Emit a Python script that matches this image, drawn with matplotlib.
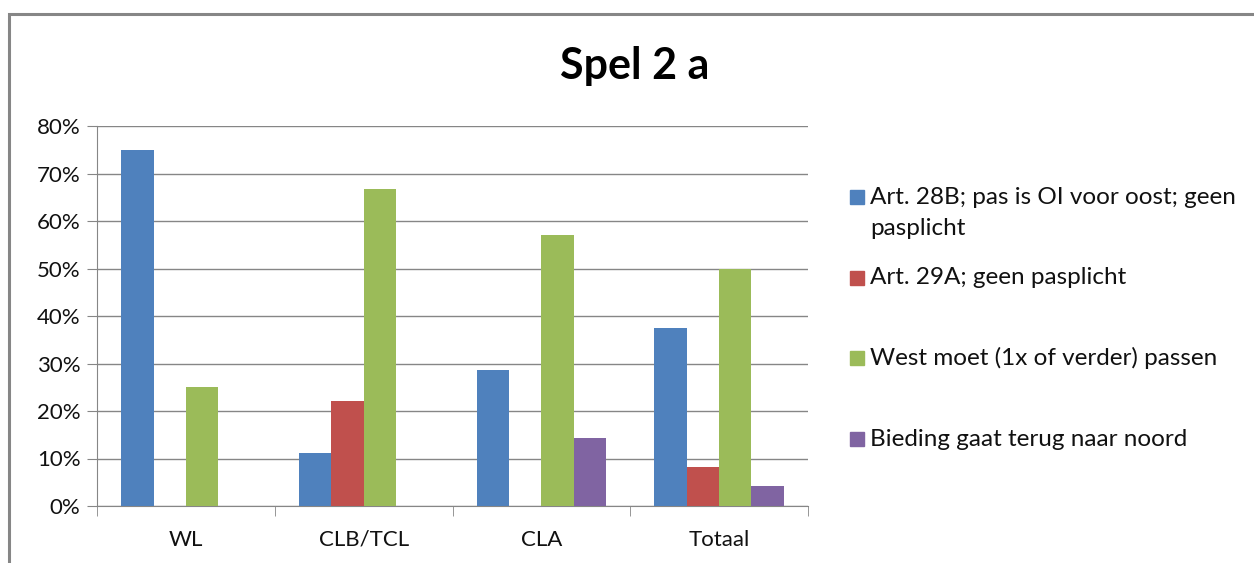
import matplotlib.pyplot as plt
from matplotlib.patches import Rectangle
from matplotlib.ticker import PercentFormatter
import numpy as np

categories = ['WL', 'CLB/TCL', 'CLA', 'Totaal']
series_names = ['Art. 28B; pas is OI voor oost; geen\npasplicht',
                'Art. 29A; geen pasplicht',
                'West moet (1x of verder) passen',
                'Bieding gaat terug naar noord']
art28b = [75.0, 11.1, 28.6, 37.5]
art29a = [0.0, 22.2, 0.0, 8.3]
west_passen = [25.0, 66.7, 57.1, 50.0]
terug_noord = [0.0, 0.0, 14.3, 4.2]
colors = ['#4F81BD', '#C0504D', '#9BBB59', '#8064A2']

plt.rcParams['font.family'] = ['Lato', 'DejaVu Sans']

W, H = 1254, 563
fig = plt.figure(figsize=(W / 100, H / 100), dpi=100)

# outer chart border (runs off the image on the right and bottom)
fig.patches.append(Rectangle((9 / W, -0.1), 1.2, (563 - 14) / H + 0.1,
                             transform=fig.transFigure, fill=False,
                             edgecolor='#868686', lw=2.2))

ax = fig.add_axes([97 / W, (H - 506) / H, (808 - 97) / W, (506 - 126) / H])

x = np.arange(len(categories))
bw = 1 / 5.5
all_series = [art28b, art29a, west_passen, terug_noord]
for i, vals in enumerate(all_series):
    ax.bar(x - 1.5 * bw + i * bw, vals, width=bw, color=colors[i], zorder=3)

ax.set_xlim(-0.5, len(categories) - 0.5)
ax.set_ylim(0, 80)
ax.set_yticks(range(0, 81, 10))
ax.yaxis.set_major_formatter(PercentFormatter(decimals=0))
ax.grid(axis='y', color='#868686', lw=1, zorder=0)
for s in ['top', 'right']:
    ax.spines[s].set_visible(False)
for s in ['left', 'bottom']:
    ax.spines[s].set_color('#868686')
ax.tick_params(axis='y', length=7, color='#868686', labelsize=16, pad=5,
               labelcolor='#111111')
ax.set_xticks(x)
ax.set_xticklabels(categories)
ax.set_xticks(np.arange(-0.5, len(categories)), minor=True)
ax.tick_params(axis='x', which='major', length=0, labelsize=16, pad=17,
               labelcolor='#111111')
ax.tick_params(axis='x', which='minor', length=7, color='#868686')

fig.text(635 / W, 1 - 66 / H, 'Spel 2 a', ha='center', va='center',
         fontsize=31, fontweight='bold')

# legend
legend_y = [213, 278, 358, 439]
for i, name in enumerate(series_names):
    yc = legend_y[i] if i != 0 else 197
    fig.patches.append(Rectangle((850 / W, 1 - (yc + 7) / H), 14 / W, 14 / H,
                                 transform=fig.transFigure, color=colors[i]))
    fig.text(870 / W, 1 - legend_y[i] / H, name, ha='left', va='center',
             fontsize=17.5, color='#111111', linespacing=1.55)

fig.savefig('out.png', dpi=100)
